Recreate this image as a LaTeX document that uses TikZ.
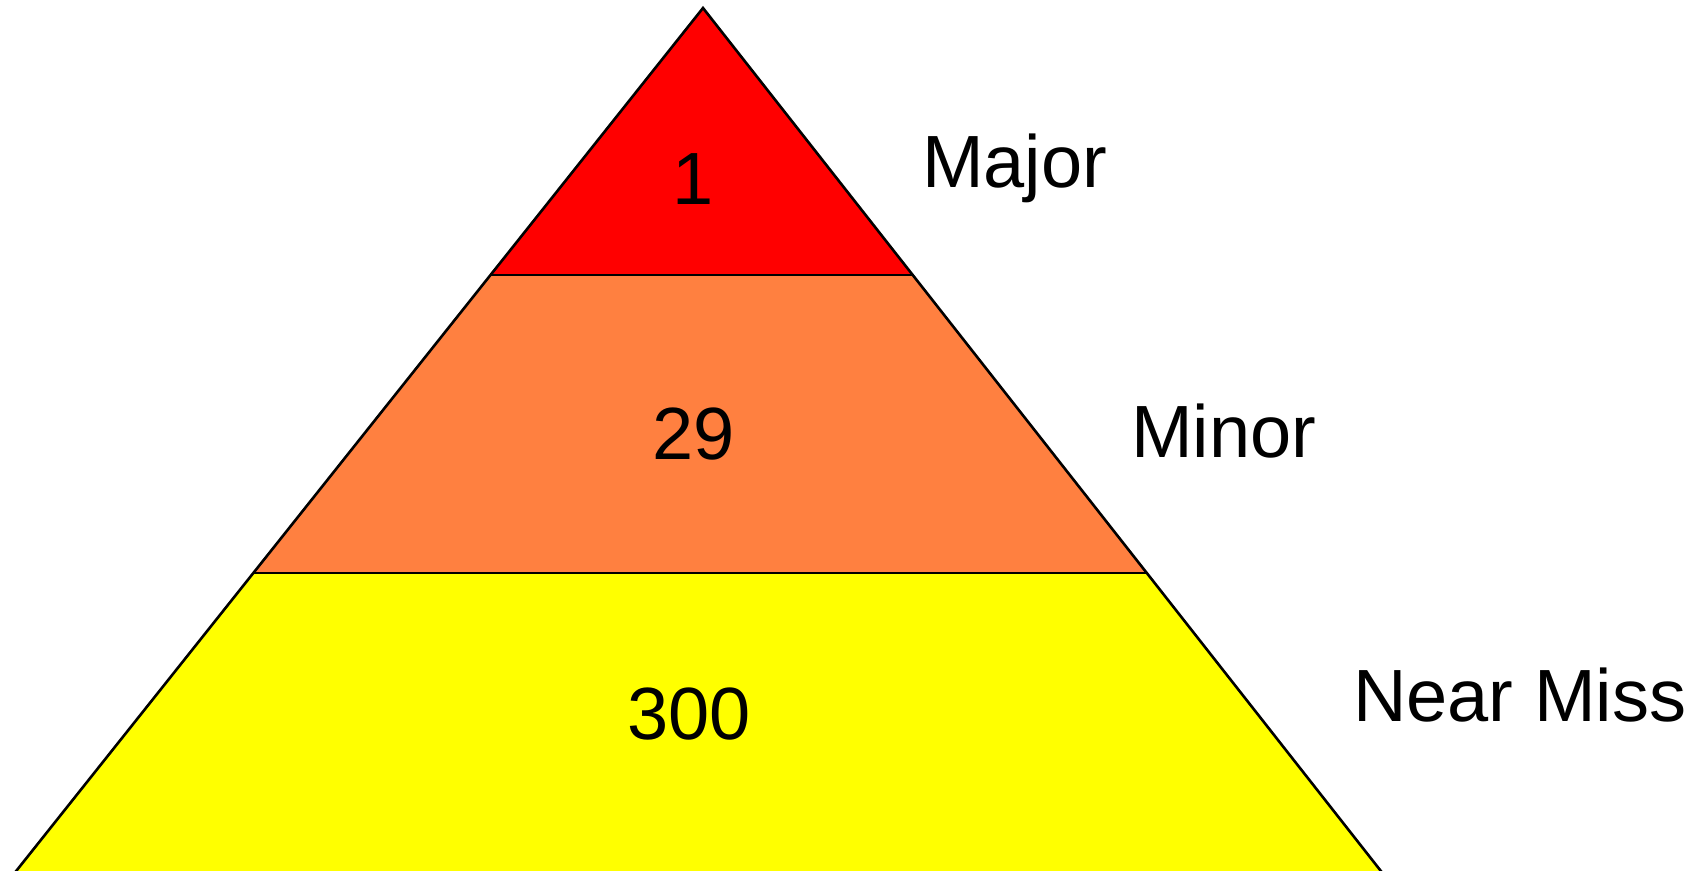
\documentclass[tikz,border=0pt]{standalone}
\usepackage{fontspec}
\setmainfont{Liberation Sans}
\usepackage{tikz}
\usetikzlibrary{positioning, calc}
\definecolor{rougevif}{RGB}{255, 0, 0}
\definecolor{orangevif}{RGB}{255, 128, 64}
\definecolor{jaunevif}{RGB}{255, 255, 0}

\begin{document}
\begin{tikzpicture}[x=1pt, y=-1pt, font=\fontsize{74}{88}\selectfont,
    bord/.style={black, line width=2.6pt, line join=miter},
    chiffre/.style={anchor=base, inner sep=0pt},
    niveau/.style={anchor=base west, inner sep=0pt}]
    \useasboundingbox (0,0) rectangle (1705,870);
    % sommet et bords de la pyramide
    \coordinate (sommet) at (703,8);
    \coordinate (g1) at (490.5,275);
    \coordinate (d1) at (912.7,275);
    \coordinate (g2) at (253.4,573);
    \coordinate (d2) at (1146.7,573);
    \coordinate (g3) at (13,875);
    \coordinate (d3) at (1384,875);
    % les trois tranches
    \fill[jaunevif] (g2) -- (d2) -- (d3) -- (g3) -- cycle;
    \fill[orangevif] (g1) -- (d1) -- (d2) -- (g2) -- cycle;
    \fill[rougevif] (sommet) -- (d1) -- (g1) -- cycle;
    \draw[bord] (g3) -- (sommet) -- (d3);
    \draw[bord] (g1) -- (d1);
    \draw[bord] (g2) -- (d2);
    % effectifs
    \node[chiffre] (un) at (693,204) {1};
    \node[chiffre] (vingtneuf) at (694,459) {29};
    \node[chiffre] (trois) at (689,739) {300};
    % niveaux
    \node[niveau] (majeur) at (922,187) {Major};
    \node[niveau] (mineur) at (1131,457) {Minor};
    \node[niveau] (presque) at (1353,721) {Near Miss};
\end{tikzpicture}
\end{document}
